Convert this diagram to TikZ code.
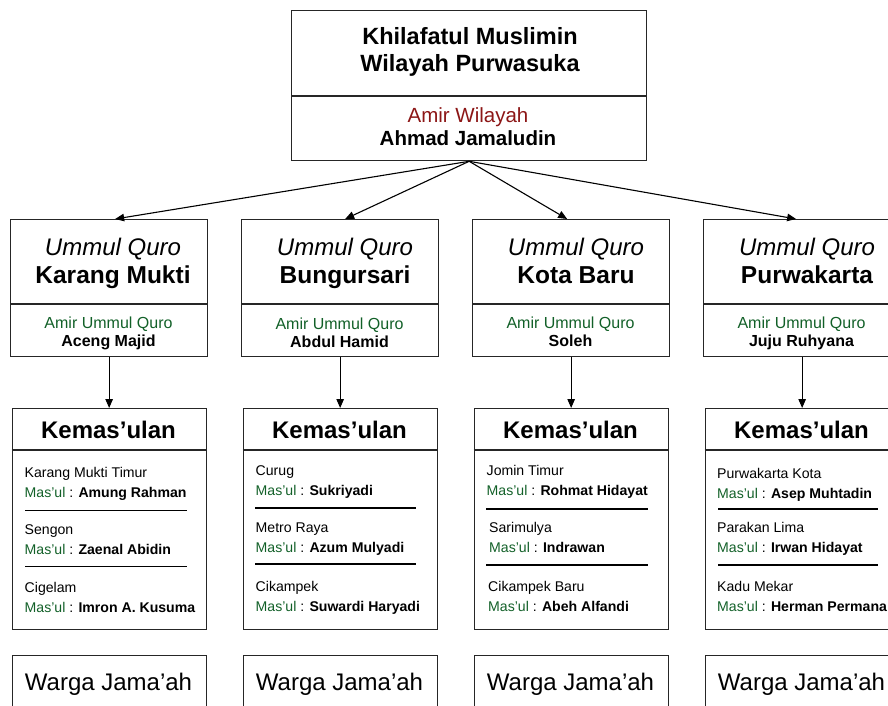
\documentclass[tikz,border=0pt]{standalone}
\usepackage{fontspec}
\setmainfont{Liberation Sans}
\usetikzlibrary{arrows.meta}
\definecolor{amirred}{RGB}{140,22,22}
\definecolor{amirgreen}{RGB}{18,96,40}
\newcommand{\fsz}[1]{\fontsize{#1}{#1}\selectfont}
\newcommand{\masul}[1]{\textcolor{amirgreen}{Mas’ul} : \textbf{#1}}

\begin{document}
\begin{tikzpicture}[x=1pt,y=-1pt,
  boxed/.style={draw=black!85, line width=1.3pt, anchor=north west, inner sep=0pt},
  uqbox/.style={boxed, minimum width=197pt, minimum height=137pt},
  kmbox/.style={boxed, minimum width=194pt, minimum height=221pt},
  wjbox/.style={boxed, minimum width=194pt, minimum height=80pt},
  divline/.style={draw=black!85, line width=1.3pt},
  sepline/.style={line width=1.8pt},
  conn/.style={line width=1.1pt, -{Triangle[length=9pt,width=7.5pt]}},
  lbl/.style={anchor=base, inner sep=0pt},
  item/.style={anchor=base west, inner sep=0pt, font=\fsz{14.1}}]
\path [use as bounding box, clip] (0,0) rectangle (888,706);
{
% Drawing box Wilayah
\node [boxed, minimum width=355pt, minimum height=150pt] (wil) at (291,10) {};%
\draw [divline] (291,96) -- (646,96);%
\node [lbl, font=\bfseries\fsz{23.5}] (wiltitleA) at (470,45) {Khilafatul Muslimin};%
\node [lbl, font=\bfseries\fsz{23.5}] (wiltitleB) at (470,72) {Wilayah Purwasuka};%
\node [lbl, font=\fsz{20.5}, text=amirred] (wilamir) at (468,123) {Amir Wilayah};%
\node [lbl, font=\bfseries\fsz{20.5}] (wilname) at (468,146) {Ahmad Jamaludin};%

% Drawing box Ummul Quro Karang Mukti
\node [uqbox] (uq1) at (10,219) {};%
\draw [divline] (10,304) -- (207,304);%
\node [lbl, font=\itshape\fsz{24}] (uq1a) at (113,255) {Ummul Quro};%
\node [lbl, font=\bfseries\fsz{24.5}] (uq1b) at (113,283) {Karang Mukti};%
\node [lbl, font=\fsz{16}, text=amirgreen] (uq1c) at (108.5,328) {Amir Ummul Quro};%
\node [lbl, font=\bfseries\fsz{16}] (uq1d) at (108.5,346) {Aceng Majid};%

% Drawing box Ummul Quro Bungursari
\node [uqbox] (uq2) at (241,219) {};%
\draw [divline] (241,304) -- (438,304);%
\node [lbl, font=\itshape\fsz{24}] (uq2a) at (345,255) {Ummul Quro};%
\node [lbl, font=\bfseries\fsz{24.5}] (uq2b) at (345,283) {Bungursari};%
\node [lbl, font=\fsz{16}, text=amirgreen] (uq2c) at (339.5,329) {Amir Ummul Quro};%
\node [lbl, font=\bfseries\fsz{16}] (uq2d) at (339.5,347) {Abdul Hamid};%

% Drawing box Ummul Quro Kota Baru
\node [uqbox] (uq3) at (472,219) {};%
\draw [divline] (472,304) -- (669,304);%
\node [lbl, font=\itshape\fsz{24}] (uq3a) at (576,255) {Ummul Quro};%
\node [lbl, font=\bfseries\fsz{24.5}] (uq3b) at (576,283) {Kota Baru};%
\node [lbl, font=\fsz{16}, text=amirgreen] (uq3c) at (570.5,328) {Amir Ummul Quro};%
\node [lbl, font=\bfseries\fsz{16}] (uq3d) at (570.5,346) {Soleh};%

% Drawing box Ummul Quro Purwakarta
\node [uqbox] (uq4) at (703,219) {};%
\draw [divline] (703,304) -- (900,304);%
\node [lbl, font=\itshape\fsz{24}] (uq4a) at (807,255) {Ummul Quro};%
\node [lbl, font=\bfseries\fsz{24.5}] (uq4b) at (807,283) {Purwakarta};%
\node [lbl, font=\fsz{16}, text=amirgreen] (uq4c) at (801.5,328) {Amir Ummul Quro};%
\node [lbl, font=\bfseries\fsz{16}] (uq4d) at (801.5,346) {Juju Ruhyana};%

% Drawing arrows from Wilayah
\draw [conn] (wil.south) -- ([xshift=6pt]uq1.north);%
\draw [conn] (wil.south) -- ([xshift=5pt]uq2.north);%
\draw [conn] (wil.south) -- ([xshift=-4pt]uq3.north);%
\draw [conn] (wil.south) -- ([xshift=-6pt]uq4.north);%

% Drawing box Kemas'ulan 1
\node [kmbox] (km1) at (11.5,408) {};%
\draw [divline] (11.5,450) -- (205.5,450);%
\node [lbl, font=\bfseries\fsz{24}] (km1h) at (108.5,438) {Kemas’ulan};%
\node [item] (km1a) at (24.5,477) {Karang Mukti Timur};%
\node [item] (km1b) at (24.5,497) {\masul{Amung Rahman}};%
\draw [sepline] (25,510.5) -- (187,510.5);%
\node [item] (km1c) at (24.5,534) {Sengon};%
\node [item] (km1d) at (24.5,554) {\masul{Zaenal Abidin}};%
\draw [sepline] (25,566.5) -- (187,566.5);%
\node [item] (km1e) at (24.5,592) {Cigelam};%
\node [item] (km1f) at (24.5,612) {\masul{Imron A. Kusuma}};%

% Drawing box Kemas'ulan 2
\node [kmbox] (km2) at (242.5,408) {};%
\draw [divline] (242.5,450) -- (436.5,450);%
\node [lbl, font=\bfseries\fsz{24}] (km2h) at (339.5,438) {Kemas’ulan};%
\node [item] (km2a) at (255.5,475) {Curug};%
\node [item] (km2b) at (255.5,495) {\masul{Sukriyadi}};%
\draw [sepline] (255,508) -- (416,508);%
\node [item] (km2c) at (255.5,532) {Metro Raya};%
\node [item] (km2d) at (255.5,552) {\masul{Azum Mulyadi}};%
\draw [sepline] (255,564) -- (416,564);%
\node [item] (km2e) at (255.5,591) {Cikampek};%
\node [item] (km2f) at (255.5,611) {\masul{Suwardi Haryadi}};%

% Drawing box Kemas'ulan 3
\node [kmbox] (km3) at (473.5,408) {};%
\draw [divline] (473.5,450) -- (667.5,450);%
\node [lbl, font=\bfseries\fsz{24}] (km3h) at (570.5,438) {Kemas’ulan};%
\node [item] (km3a) at (486.5,475) {Jomin Timur};%
\node [item] (km3b) at (486.5,495) {\masul{Rohmat Hidayat}};%
\draw [sepline] (486,509) -- (648,509);%
\node [item] (km3c) at (489,532) {Sarimulya};%
\node [item] (km3d) at (489,552) {\masul{Indrawan}};%
\draw [sepline] (486,565) -- (648,565);%
\node [item] (km3e) at (488,591) {Cikampek Baru};%
\node [item] (km3f) at (488,611) {\masul{Abeh Alfandi}};%

% Drawing box Kemas'ulan 4
\node [kmbox] (km4) at (704.5,408) {};%
\draw [divline] (704.5,450) -- (898.5,450);%
\node [lbl, font=\bfseries\fsz{24}] (km4h) at (801.5,438) {Kemas’ulan};%
\node [item] (km4a) at (717,478) {Purwakarta Kota};%
\node [item] (km4b) at (717,498) {\masul{Asep Muhtadin}};%
\draw [sepline] (718,509) -- (878,509);%
\node [item] (km4c) at (717,532) {Parakan Lima};%
\node [item] (km4d) at (717,552) {\masul{Irwan Hidayat}};%
\draw [sepline] (718,565) -- (878,565);%
\node [item] (km4e) at (717,591) {Kadu Mekar};%
\node [item] (km4f) at (717,611) {\masul{Herman Permana}};%

% Drawing arrows from Ummul Quro
\draw [conn] (uq1.south) -- (km1.north);%
\draw [conn] (uq2.south) -- (km2.north);%
\draw [conn] (uq3.south) -- (km3.north);%
\draw [conn] (uq4.south) -- (km4.north);%

% Drawing box Warga Jama'ah
\node [wjbox] (wj1) at (11.5,655) {};%
\node [lbl, font=\fsz{24}] (wj1t) at (108.5,690) {Warga Jama’ah};%
\node [wjbox] (wj2) at (242.5,655) {};%
\node [lbl, font=\fsz{24}] (wj2t) at (339.5,690) {Warga Jama’ah};%
\node [wjbox] (wj3) at (473.5,655) {};%
\node [lbl, font=\fsz{24}] (wj3t) at (570.5,690) {Warga Jama’ah};%
\node [wjbox] (wj4) at (704.5,655) {};%
\node [lbl, font=\fsz{24}] (wj4t) at (801.5,690) {Warga Jama’ah};%
}
\end{tikzpicture}
\end{document}
